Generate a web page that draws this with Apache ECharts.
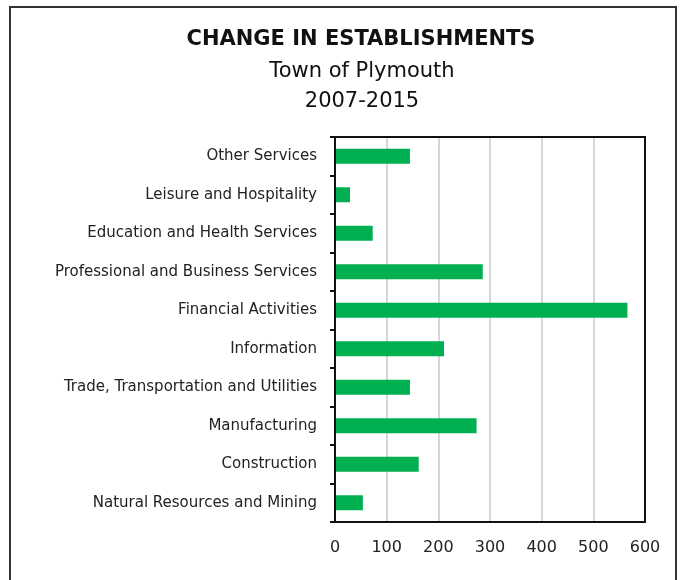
<!DOCTYPE html>
<html>
<head>
<meta charset="utf-8">
<title>Change in Establishments</title>
<script src="https://cdn.jsdelivr.net/npm/echarts@6/dist/echarts.min.js"></script>
<style>
  html, body { margin: 0; padding: 0; background: #fff; }
  #chart { width: 681px; height: 580px; }
</style>
</head>
<body>
<div id="chart"></div>
<script>
// Industry sectors, listed bottom to top as drawn on the category axis
const categories = [
  'Natural Resources and Mining',
  'Construction',
  'Manufacturing',
  'Trade, Transportation and Utilities',
  'Information',
  'Financial Activities',
  'Professional and Business Services',
  'Education and Health Services',
  'Leisure and Hospitality',
  'Other Services'
];

// Change in number of establishments, 2007-2015
const changeValues = [54, 162, 274, 145, 211, 566, 286, 73, 29, 145];

// Value axis ticks
const axisMin = 0;
const axisMax = 600;
const axisStep = 100;

const FONT = 'DejaVu Sans';

const chart = echarts.init(document.getElementById('chart'), null, { renderer: 'canvas' });

chart.setOption({
  backgroundColor: '#ffffff',
  animation: false,
  title: [
    {
      text: 'CHANGE IN ESTABLISHMENTS',
      left: 356, top: 24, textAlign: 'center',
      textStyle: { fontFamily: FONT, fontWeight: 'bold', fontSize: 21, color: '#111' }
    },
    {
      text: 'Town of Plymouth',
      left: 357, top: 56, textAlign: 'center',
      textStyle: { fontFamily: FONT, fontWeight: 'normal', fontSize: 21, color: '#111' }
    },
    {
      text: '2007-2015',
      left: 357, top: 86, textAlign: 'center',
      textStyle: { fontFamily: FONT, fontWeight: 'normal', fontSize: 21, color: '#111' }
    }
  ],
  graphic: [
    // outer frame of the figure
    {
      type: 'rect',
      shape: { x: 10, y: 7, width: 666, height: 590 },
      style: { fill: 'none', stroke: '#333', lineWidth: 2 },
      silent: true
    }
  ],
  grid: {
    left: 335, right: 36, top: 137, bottom: 58, z: 3,
    show: true, borderColor: '#111', borderWidth: 2, backgroundColor: 'transparent'
  },
  xAxis: {
    type: 'value',
    min: axisMin, max: axisMax, interval: axisStep,
    axisLine: { show: true, lineStyle: { color: '#111', width: 2 } },
    axisTick: { show: false },
    splitLine: { show: true, lineStyle: { color: '#c8c8c8', width: 1.5 } },
    axisLabel: { fontFamily: FONT, fontSize: 16, color: '#222', margin: 18 }
  },
  yAxis: {
    type: 'category',
    data: categories,
    axisLine: { show: true, lineStyle: { color: '#111', width: 2 } },
    axisTick: { show: true, length: 5, lineStyle: { color: '#111', width: 2 } },
    axisLabel: { fontFamily: FONT, fontSize: 15, color: '#222', margin: 18 }
  },
  series: [
    {
      type: 'bar',
      data: changeValues,
      barWidth: 15,
      itemStyle: { color: '#00b050' },
      silent: true
    }
  ]
});
</script>
</body>
</html>
